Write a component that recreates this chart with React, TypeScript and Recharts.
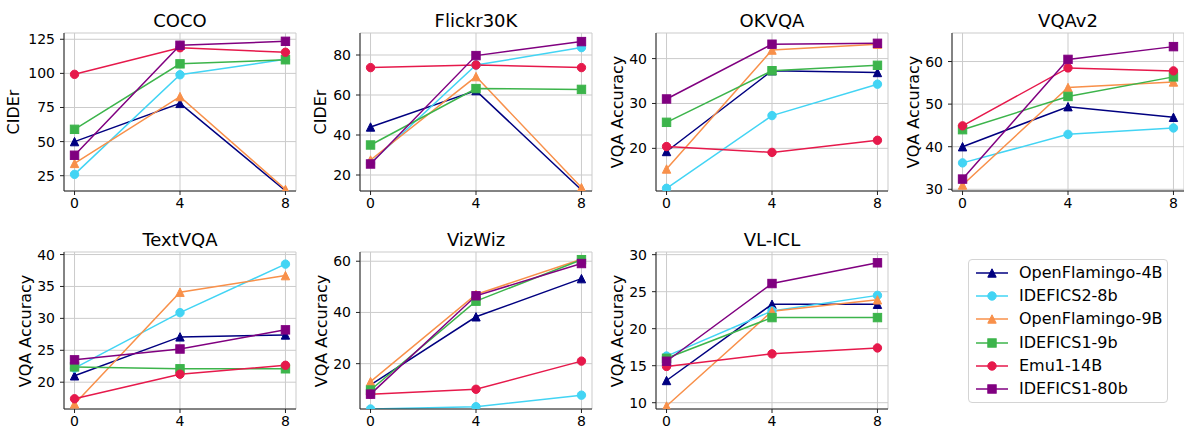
import React from 'react';
import { LineChart, Line, XAxis, YAxis, CartesianGrid } from 'recharts';

const shots = [0, 4, 8];

const models = ['OpenFlamingo-4B', 'IDEFICS2-8b', 'OpenFlamingo-9B', 'IDEFICS1-9b', 'Emu1-14B', 'IDEFICS1-80b'];
const colors = ['#000080', '#42d4f4', '#f8904a', '#3cb44b', '#e6194b', '#800080'];
const shapes = ['triangle', 'circle', 'triangle', 'square', 'circle', 'square'];

// scores per model (same order as models), for 0 / 4 / 8 shots
const cocoScores = [
  [50, 78, 14],
  [26, 99, 110.3],
  [34, 83, 15],
  [59, 107, 110],
  [99.3, 118.8, 115.5],
  [40, 120.6, 123.5],
];
const flickrScores = [
  [44, 62.2, 12.5],
  [26, 75, 83.7],
  [27.5, 69.2, 13.7],
  [35, 63.2, 62.8],
  [73.7, 75, 73.7],
  [25.5, 79.7, 86.7],
];
const okvqaScores = [
  [19.3, 37.3, 36.9],
  [11.1, 27.3, 34.3],
  [15.4, 41.9, 43.2],
  [25.8, 37.3, 38.5],
  [20.4, 19.1, 21.8],
  [31.0, 43.2, 43.4],
];
const vqav2Scores = [
  [40.0, 49.4, 46.9],
  [36.2, 42.9, 44.4],
  [31.0, 53.9, 55.2],
  [44.0, 51.8, 56.4],
  [44.9, 58.5, 57.8],
  [32.4, 60.5, 63.5],
];
const textvqaScores = [
  [21.0, 27.1, 27.4],
  [22.2, 30.9, 38.5],
  [16.6, 34.1, 36.7],
  [22.4, 22.1, 22.1],
  [17.4, 21.25, 22.65],
  [23.5, 25.2, 28.2],
];
const vizwizScores = [
  [11.7, 38.3, 53.2],
  [2.3, 3.2, 7.7],
  [13.0, 47.0, 60.8],
  [9.7, 44.4, 60.6],
  [8.1, 10.0, 21.0],
  [8.1, 46.5, 59.1],
];
const vlIclScores = [
  [13.0, 23.3, 23.3],
  [16.3, 22.4, 24.5],
  [9.55, 22.35, 23.9],
  [16.0, 21.5, 21.5],
  [14.9, 16.6, 17.4],
  [15.6, 26.1, 28.9],
];

const panels = [
  { title: 'COCO', ylabel: 'CIDEr', scores: cocoScores, ticks: [25, 50, 75, 100, 125], domain: [13.8, 129.6], col: 0, row: 0, labelOff: -50 },
  { title: 'Flickr30K', ylabel: 'CIDEr', scores: flickrScores, ticks: [20, 40, 60, 80], domain: [12, 91], col: 1, row: 0, labelOff: -39 },
  { title: 'OKVQA', ylabel: 'VQA Accuracy', scores: okvqaScores, ticks: [20, 30, 40], domain: [10.5, 45.7], col: 2, row: 0, labelOff: -38 },
  { title: 'VQAv2', ylabel: 'VQA Accuracy', scores: vqav2Scores, ticks: [30, 40, 50, 60], domain: [29.6, 66.7], col: 3, row: 0, labelOff: -38 },
  { title: 'TextVQA', ylabel: 'VQA Accuracy', scores: textvqaScores, ticks: [20, 25, 30, 35, 40], domain: [15.8, 40.4], col: 0, row: 1, labelOff: -38 },
  { title: 'VizWiz', ylabel: 'VQA Accuracy', scores: vizwizScores, ticks: [20, 40, 60], domain: [2.3, 63.6], col: 1, row: 1, labelOff: -38 },
  { title: 'VL-ICL', ylabel: 'VQA Accuracy', scores: vlIclScores, ticks: [10, 15, 20, 25, 30], domain: [9.15, 30.36], col: 2, row: 1, labelOff: -38 },
];

const FONT = '"DejaVu Sans", sans-serif';
const colLeft = [64, 360, 656, 952];
const rowTop = [33, 252];
const rowHeight = [158, 157];
const PLOT_W = 232;

function Marker({ shape, color, cx, cy }: { shape: string; color: string; cx: number; cy: number }) {
  const s = 4.2;
  if (shape === 'circle') return <circle cx={cx} cy={cy} r={s} fill={color} stroke={color} strokeWidth={1} />;
  if (shape === 'square') return <rect x={cx - s} y={cy - s} width={2 * s} height={2 * s} fill={color} stroke={color} strokeWidth={1} />;
  return (
    <polygon
      points={`${cx},${cy - s} ${cx - s},${cy + s} ${cx + s},${cy + s}`}
      fill={color}
      stroke={color}
      strokeWidth={1}
    />
  );
}

function Panel({ p }: { p: typeof panels[number] }) {
  const data = shots.map((shot, i) => {
    const row: any = { shot };
    p.scores.forEach((vals, m) => {
      row[`m${m}`] = vals[i];
    });
    return row;
  });
  const plotLeft = colLeft[p.col];
  const plotTop = rowTop[p.row];
  const plotH = rowHeight[p.row];

  return (
    <>
      <div
        style={{
          position: 'absolute',
          left: plotLeft,
          top: plotTop - 21,
          width: PLOT_W,
          textAlign: 'center',
          fontSize: 18,
          lineHeight: '18px',
          color: '#000',
        }}
      >
        {p.title}
      </div>
      <div
        style={{
          position: 'absolute',
          left: plotLeft + p.labelOff,
          top: plotTop + plotH / 2,
          transform: 'translate(-50%, -50%) rotate(-90deg)',
          fontSize: 16,
          lineHeight: '16px',
          whiteSpace: 'nowrap',
          color: '#000',
        }}
      >
        {p.ylabel}
      </div>
      <div style={{ position: 'absolute', left: plotLeft - 64, top: plotTop - 33 }}>
        <LineChart width={300} height={33 + plotH + 26} data={data} margin={{ top: 33, right: 4, bottom: 0, left: 0 }}>
          <CartesianGrid stroke="#cbcbcb" strokeWidth={1} />
          <XAxis
            dataKey="shot"
            type="number"
            domain={[-0.4, 8.4]}
            ticks={shots}
            height={26}
            tickSize={4}
            tickMargin={3}
            stroke="#222"
            tick={{ fill: '#000', fontSize: 14, fontFamily: FONT }}
            allowDataOverflow
          />
          <XAxis xAxisId="top" dataKey="shot" type="number" domain={[-0.4, 8.4]} orientation="top" height={0} tick={false} tickLine={false} stroke="#222" />
          <YAxis
            type="number"
            domain={p.domain}
            ticks={p.ticks}
            width={64}
            tickSize={4}
            tickMargin={5}
            stroke="#222"
            tick={{ fill: '#000', fontSize: 14, fontFamily: FONT }}
            allowDataOverflow
          />
          <YAxis yAxisId="right" type="number" domain={p.domain} orientation="right" width={0} tick={false} tickLine={false} stroke="#222" />
          {models.map((name, m) => (
            <Line
              key={name}
              dataKey={`m${m}`}
              name={name}
              stroke={colors[m]}
              strokeWidth={1.5}
              isAnimationActive={false}
              dot={(d: any) => <Marker key={`d-${m}-${d.index}`} shape={shapes[m]} color={colors[m]} cx={d.cx} cy={d.cy} />}
              activeDot={false}
            />
          ))}
        </LineChart>
      </div>
    </>
  );
}

function Legend() {
  return (
    <div
      style={{
        position: 'absolute',
        left: 968,
        top: 259,
        width: 198,
        height: 142,
        border: '1px solid #d4d4d4',
        borderRadius: 4,
        background: '#fff',
      }}
    >
      {models.map((name, m) => {
        const cy = 13 + m * 23.2;
        return (
          <div key={name} style={{ position: 'absolute', left: 0, top: cy - 10, height: 20, width: 198 }}>
            <svg width={40} height={20} style={{ position: 'absolute', left: 6, top: 0 }}>
              <line x1={1} y1={10} x2={33} y2={10} stroke={colors[m]} strokeWidth={1.5} />
              <Marker shape={shapes[m]} color={colors[m]} cx={17} cy={10} />
            </svg>
            <span style={{ position: 'absolute', left: 50, top: 1, fontSize: 16, lineHeight: '18px', whiteSpace: 'nowrap' }}>{name}</span>
          </div>
        );
      })}
    </div>
  );
}

export default function App() {
  return (
    <div
      style={{
        position: 'absolute',
        left: 0,
        top: 0,
        width: 1184,
        height: 435,
        overflow: 'hidden',
        background: '#fff',
        fontFamily: FONT,
      }}
    >
      {panels.map((p) => (
        <Panel key={p.title} p={p} />
      ))}
      <Legend />
    </div>
  );
}
